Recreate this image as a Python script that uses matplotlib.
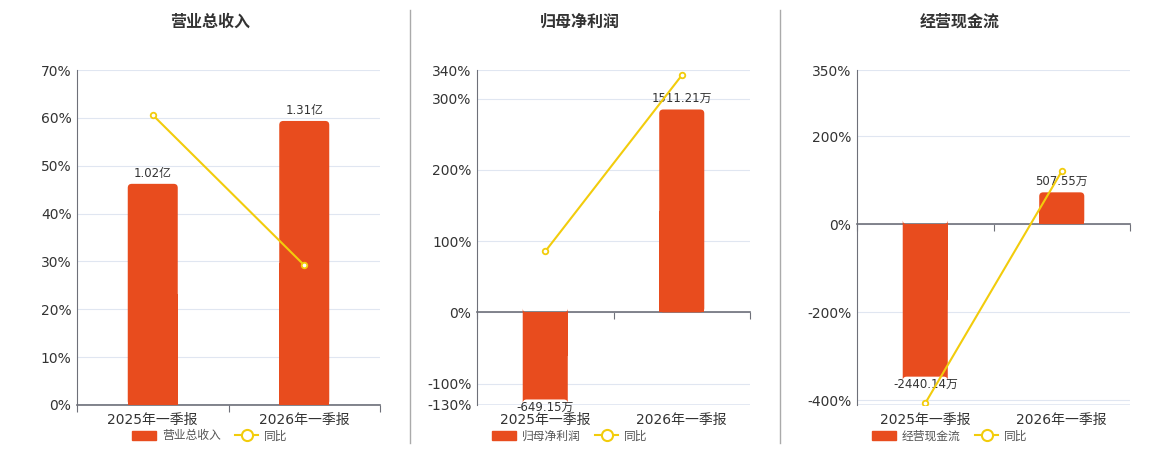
import matplotlib
matplotlib.use("Agg")
import matplotlib.pyplot as plt
from matplotlib.lines import Line2D
from matplotlib.patches import Patch, FancyBboxPatch

plt.rcParams["font.family"] = ["DejaVu Sans", "Noto Sans CJK SC"]

periods = ["2025年一季报", "2026年一季报"]

# 营业总收入 (亿)
revenue = [1.02, 1.31]
revenue_yoy = [60.6, 29.2]
revenue_labels = ["1.02亿", "1.31亿"]

# 归母净利润 (万)
profit = [-649.15, 1511.21]
profit_yoy = [85.5, 332.5]
profit_labels = ["-649.15万", "1511.21万"]

# 经营现金流 (万)
cashflow = [-2440.14, 507.55]
cashflow_yoy = [-407.0, 120.0]
cashflow_labels = ["-2440.14万", "507.55万"]

BAR_COLOR = "#E84C1E"
LINE_COLOR = "#F2CC0C"
GRID_COLOR = "#E0E6F1"
AXIS_COLOR = "#6E7079"
TEXT_COLOR = "#333333"

panels = [
    dict(title="营业总收入", name="营业总收入", bars=revenue, yoy=revenue_yoy, labels=revenue_labels,
         pct_lim=(0, 70), pct_ticks=[0, 10, 20, 30, 40, 50, 60, 70], bar_lim=(0, 1.545),
         rect=[77, 303], title_x=210, legend_x=210),
    dict(title="归母净利润", name="归母净利润", bars=profit, yoy=profit_yoy, labels=profit_labels,
         pct_lim=(-130, 340), pct_ticks=[-130, -100, 0, 100, 200, 300, 340], bar_lim=(-130 * 5.31, 340 * 5.31),
         rect=[477, 273], title_x=580, legend_x=570),
    dict(title="经营现金流", name="经营现金流", bars=cashflow, yoy=cashflow_yoy, labels=cashflow_labels,
         pct_lim=(-411, 350), pct_ticks=[-400, -200, 0, 200, 350], bar_lim=(-411 * 7.04, 350 * 7.04),
         rect=[857, 273], title_x=960, legend_x=950),
]

W, H = 1160, 450
AX_H = 335
RADIUS_PX = 4


def round_bars(axb, bars, width_px, ylim):
    # rounded end away from zero, square end at the axis line
    xpu = width_px / 2.0
    ypu = AX_H / (ylim[1] - ylim[0])
    for b in bars:
        x, y, w, h = b.get_x(), b.get_y(), b.get_width(), b.get_height()
        axb.add_patch(FancyBboxPatch((x, y), w, h,
                                     boxstyle=f"round,pad=0,rounding_size={RADIUS_PX / xpu}",
                                     mutation_aspect=xpu / ypu, facecolor=BAR_COLOR,
                                     edgecolor="none", zorder=2))
        b.set_height(h / 2)


fig = plt.figure(figsize=(W / 100, H / 100), dpi=100)

for p in panels:
    left, width = p["rect"]
    ax = fig.add_axes([left / W, 1 - 405 / H, width / W, AX_H / H])
    ax.set_xlim(-0.5, 1.5)
    ax.set_ylim(*p["pct_lim"])
    ax.set_yticks(p["pct_ticks"])
    ax.set_yticklabels([f"{t}%" for t in p["pct_ticks"]], fontsize=10, color=TEXT_COLOR)
    ax.tick_params(axis="y", length=0, pad=4)
    ax.grid(axis="y", color=GRID_COLOR, linewidth=0.8)
    ax.set_axisbelow(True)
    for s in ["top", "right"]:
        ax.spines[s].set_visible(False)
    ax.spines["left"].set_color(AXIS_COLOR)
    ax.spines["bottom"].set_color(AXIS_COLOR)
    ax.spines["bottom"].set_linewidth(1.2)
    ax.spines["bottom"].set_position(("data", 0))
    ax.spines["bottom"].set_zorder(5)
    ax.axhline(p["pct_lim"][0], color=GRID_COLOR, linewidth=1.2)
    ax.set_xticks([-0.5, 0.5, 1.5])
    ax.set_xticklabels([])
    ax.tick_params(axis="x", length=5, color=AXIS_COLOR, direction="out")
    for i, lab in enumerate(periods):
        ax.text(i, -0.025, lab, transform=ax.get_xaxis_transform(), ha="center", va="top",
                fontsize=10, color=TEXT_COLOR)

    # bars on a hidden twin axis
    axb = ax.twinx()
    axb.set_ylim(*p["bar_lim"])
    axb.axis("off")
    bars = axb.bar(range(len(periods)), p["bars"], width=0.33, color=BAR_COLOR, zorder=2)
    for b, v, lab in zip(bars, p["bars"], p["labels"]):
        x = b.get_x() + b.get_width() / 2
        if v >= 0:
            axb.annotate(lab, (x, v), xytext=(0, 3), textcoords="offset points",
                         ha="center", va="bottom", fontsize=8.5, color=TEXT_COLOR, zorder=4)
        else:
            axb.annotate(lab, (x, v), xytext=(0, -1), textcoords="offset points",
                         ha="center", va="top", fontsize=8.5, color=TEXT_COLOR, zorder=4)
    round_bars(axb, bars, width, p["bar_lim"])

    # yoy line on top
    axl = ax.twinx()
    axl.set_ylim(*p["pct_lim"])
    axl.axis("off")
    axl.plot(range(len(periods)), p["yoy"], color=LINE_COLOR, linewidth=1.5,
             marker="o", markersize=4, markerfacecolor="white", markeredgecolor=LINE_COLOR,
             markeredgewidth=1.3, zorder=3)

    fig.text(p["title_x"] / W, 1 - 22 / H, p["title"], ha="center", va="center",
             fontsize=11.5, fontweight="bold", color=TEXT_COLOR)

    handles = [
        Patch(facecolor=BAR_COLOR, edgecolor=BAR_COLOR, label=p["name"]),
        Line2D([0], [0], color=LINE_COLOR, linewidth=1.5, marker="o", markersize=8,
               markerfacecolor="white", markeredgecolor=LINE_COLOR, markeredgewidth=1.5, label="同比"),
    ]
    fig.legend(handles=handles, loc="center", bbox_to_anchor=(p["legend_x"] / W, 1 - 436 / H),
               ncol=2, frameon=False, fontsize=8.5, handlelength=2.0, handleheight=0.9,
               columnspacing=1.2, handletextpad=0.5, labelcolor="#555555")

# separators between panels
for sx in [410, 780]:
    fig.add_artist(Line2D([sx / W, sx / W], [1 - 10 / H, 1 - 443 / H], color="#AAAAAA", linewidth=1))

fig.savefig("out.png", dpi=100)
